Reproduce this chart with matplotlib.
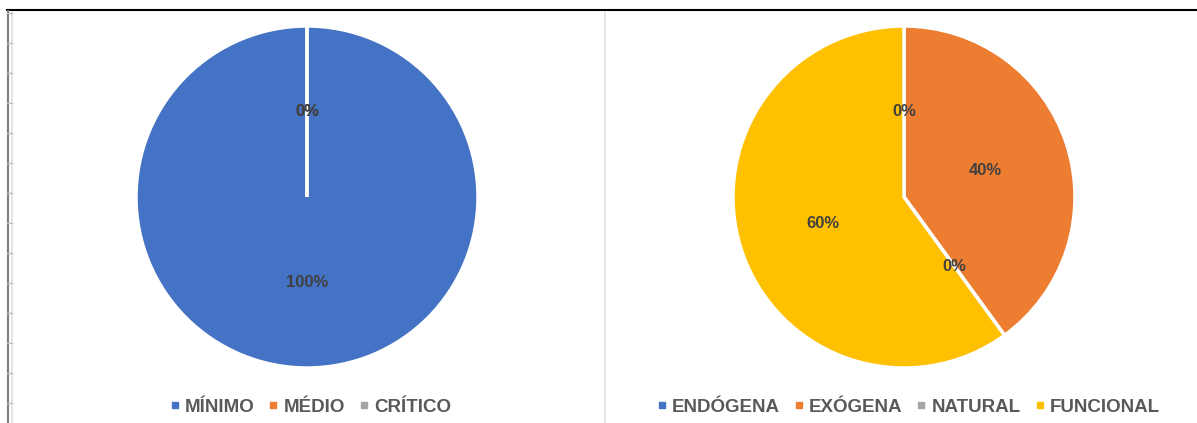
import matplotlib.pyplot as plt
from matplotlib.lines import Line2D

# dados
nivel_labels = ['MÍNIMO', 'MÉDIO', 'CRÍTICO']
nivel_values = [100, 0, 0]
nivel_colors = ['#4472C4', '#ED7D31', '#A5A5A5']

origem_labels = ['ENDÓGENA', 'EXÓGENA', 'NATURAL', 'FUNCIONAL']
origem_values = [0, 40, 0, 60]
origem_colors = ['#4472C4', '#ED7D31', '#A5A5A5', '#FFC000']

W, H = 1197, 423
fig = plt.figure(figsize=(W / 100, H / 100), dpi=100)
plt.rcParams['font.family'] = ['Liberation Sans', 'DejaVu Sans']


def px_axes(cx, cy, r):
    return fig.add_axes([(cx - r) / W, (H - cy - r) / H, 2 * r / W, 2 * r / H])


def draw_pie(ax, values, colors):
    wedges, texts, autotexts = ax.pie(
        values, colors=colors, startangle=90, counterclock=False,
        autopct='%1.0f%%', pctdistance=0.5, radius=1,
        wedgeprops=dict(edgecolor='white', linewidth=2.5))
    for t in autotexts:
        t.set_color('#404040')
        t.set_fontweight('bold')
        t.set_fontsize(12)
    ax.set_xlim(-1, 1)
    ax.set_ylim(-1, 1)
    ax.set_aspect('equal')
    ax.axis('off')


def draw_legend(labels, colors, x_center, spacing):
    handles = [Line2D([], [], marker='s', linestyle='none', markersize=4.5,
                      markerfacecolor=c, markeredgecolor=c) for c in colors]
    leg = fig.legend(handles, labels, loc='center', ncol=len(labels),
                     bbox_to_anchor=(x_center / W, 1 - 407 / H),
                     frameon=False, handlelength=0.4, handletextpad=0.35,
                     columnspacing=spacing,
                     prop=dict(weight='bold', size=13.5))
    for t in leg.get_texts():
        t.set_color('#595959')


ax1 = px_axes(307, 197, 171)
draw_pie(ax1, nivel_values, nivel_colors)
ax2 = px_axes(904, 197, 171)
draw_pie(ax2, origem_values, origem_colors)

draw_legend(nivel_labels, nivel_colors, 311, 0.8)
draw_legend(origem_labels, origem_colors, 909, 0.8)

# moldura
fig.add_artist(Line2D([7 / W, 1], [1 - 10.5 / H] * 2, color='black', lw=1.5))
fig.add_artist(Line2D([7.5 / W] * 2, [0, 1 - 11 / H], color='#7f7f7f', lw=1.5))
fig.add_artist(Line2D([11.5 / W] * 2, [0, 1 - 12 / H], color='#e0e0e0', lw=1.2))
fig.add_artist(Line2D([604.5 / W] * 2, [0, 1 - 12 / H], color='#e0e0e0', lw=1.2))
for y in range(13, H, 30):
    fig.add_artist(Line2D([7 / W, 12 / W], [1 - y / H] * 2, color='#bfbfbf', lw=1))

fig.savefig('out.png', dpi=100)
